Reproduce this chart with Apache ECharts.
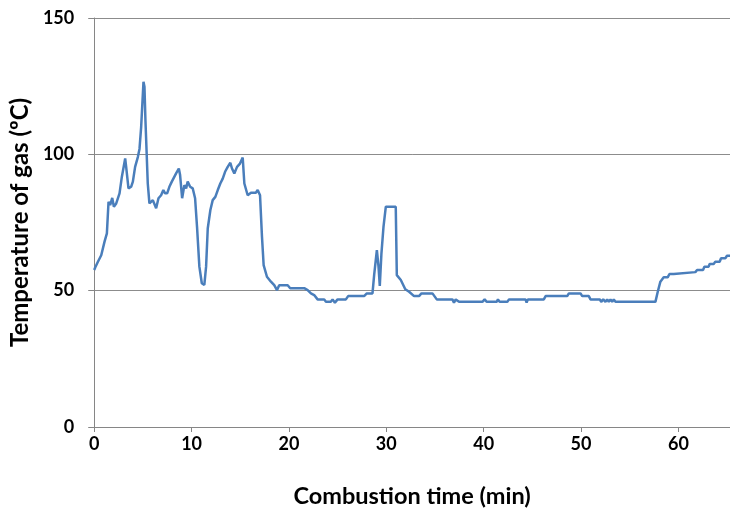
<!DOCTYPE html>
<html>
<head>
<meta charset="utf-8">
<script src="https://cdn.jsdelivr.net/npm/echarts@6/dist/echarts.min.js"></script>
<style>html,body{margin:0;padding:0;background:#fff;}#c{width:730px;height:518px;}</style>
</head>
<body>
<div id="c"></div>
<script>
var times = [0,0.1,0.38,0.72,1.06,1.3,1.47,1.64,1.85,2.02,2.26,2.43,2.6,2.84,3.18,3.28,3.52,3.79,3.97,4.2,4.48,4.65,4.82,5.06,5.16,5.26,5.5,5.67,6.02,6.18,6.36,6.6,6.87,7.1,7.28,7.49,7.72,7.97,8.17,8.41,8.69,8.82,9.03,9.26,9.44,9.6,9.85,10.12,10.36,10.56,10.8,11.05,11.31,11.49,11.66,11.93,12.17,12.44,12.69,12.95,13.2,13.44,13.71,13.98,14.15,14.39,14.67,14.97,15.25,15.42,15.76,16.1,16.6,16.79,17.03,17.23,17.4,17.74,18.15,18.49,18.77,19.0,19.87,20.13,21.57,21.92,22.26,22.59,22.94,23.62,23.8,24.3,24.48,24.72,25.0,25.85,26.08,27.72,28.0,28.58,28.75,29.03,29.2,29.33,29.5,29.71,29.95,30.97,31.08,31.49,31.95,32.34,32.85,33.36,33.61,34.74,35.18,36.79,36.95,37.13,37.47,39.87,40.1,40.3,41.33,41.47,41.64,42.43,42.6,44.3,44.41,44.54,46.18,46.36,48.58,48.75,49.95,50.12,50.8,50.97,51.93,52.07,52.28,52.51,52.69,52.85,53.03,53.2,53.36,53.54,57.64,57.88,58.15,58.49,58.9,59.08,59.52,59.69,61.74,61.92,62.53,62.67,63.11,63.21,63.62,63.79,64.24,64.38,64.82,64.99,65.3];
var temps = [57.6,58.5,60.6,63,68,71,82.6,81.4,84,80.8,82,81.4,85.7,91.8,98.5,95.4,87.5,88.1,90,95.4,99,102,110,126.6,124.8,112.6,89.3,82,83.2,82.6,80.2,83.9,85,86.9,85.7,85.7,88.1,90,90,93,94.8,92.4,83.9,88.7,87.5,90,88.1,87.5,83.9,73.4,58.8,52.7,52.1,58.8,72.8,79.6,83.2,84.4,86.9,89.3,91.1,93.6,95.4,96.9,94.8,93,95.4,96.6,98.8,89.3,85,85.9,85.9,86.9,85,69.8,59.4,55.1,53.3,52,50.2,52,52,50.9,50.9,50.2,49,48.4,46.8,46.8,45.9,45.9,46.8,45.6,46.8,46.8,48,48,49,49,55.7,64.9,58.8,51.7,63.7,73.4,80.8,80.8,55.7,53.9,50.5,49.6,48,48,49,49,46.8,46.8,45.6,46.8,45.9,45.9,46.8,45.9,45.9,46.8,45.9,45.9,46.8,46.8,45.6,46.8,46.8,48,48,49,49,48,48,46.8,46.8,45.9,46.8,45.9,46.8,45.9,46.8,45.9,46.8,45.9,45.9,49.6,53.3,54.9,54.9,56.1,56.1,56.8,56.8,57.6,57.6,58.8,58.8,59.8,59.8,60.6,60.6,61.9,61.9,62.8,62.8];
var xTicks = [0,10,20,30,40,50,60];
var yTicks = [0,50,100,150];

var data = times.map(function(t,i){return [t,temps[i]];});
var chart = echarts.init(document.getElementById('c'), null, {renderer:'canvas'});
var fontFam = 'Lato, "Open Sans", sans-serif';
chart.setOption({
  animation:false,
  backgroundColor:'#fff',
  grid:{left:93,right:0,top:18,bottom:91,containLabel:false},
  xAxis:{
    type:'value',min:0,max:65.3,interval:10,
    name:'Combustion time (min)',nameLocation:'middle',nameGap:57,
    nameTextStyle:{fontFamily:fontFam,fontWeight:'bold',fontSize:23.5,color:'#000'},
    axisLine:{show:true,lineStyle:{color:'#868686',width:1}},
    axisTick:{show:true,inside:false,length:5,lineStyle:{color:'#868686'}},
    splitLine:{show:false},
    axisLabel:{showMaxLabel:false,margin:8,fontFamily:fontFam,fontWeight:'bold',fontSize:18,color:'#000',
      formatter:function(v){return xTicks.indexOf(v)>=0?String(v):'';}}
  },
  yAxis:{
    type:'value',min:0,max:150,interval:50,
    name:'Temperature of gas (ºC)',nameLocation:'middle',nameGap:59,
    nameTextStyle:{fontFamily:fontFam,fontWeight:'bold',fontSize:24,color:'#000'},
    axisLine:{show:true,lineStyle:{color:'#868686',width:1}},
    axisTick:{show:true,inside:false,length:6,lineStyle:{color:'#868686'}},
    splitLine:{show:true,lineStyle:{color:'#8c8c8c',width:1}},
    axisLabel:{margin:20,fontFamily:fontFam,fontWeight:'bold',fontSize:18,color:'#000',
      formatter:function(v){return yTicks.indexOf(v)>=0?String(v):'';}}
  },
  series:[{
    type:'line',data:data,showSymbol:false,symbol:'none',
    lineStyle:{color:'#4a7ebb',width:2.5},
    clip:true
  }]
});
</script>
</body>
</html>
